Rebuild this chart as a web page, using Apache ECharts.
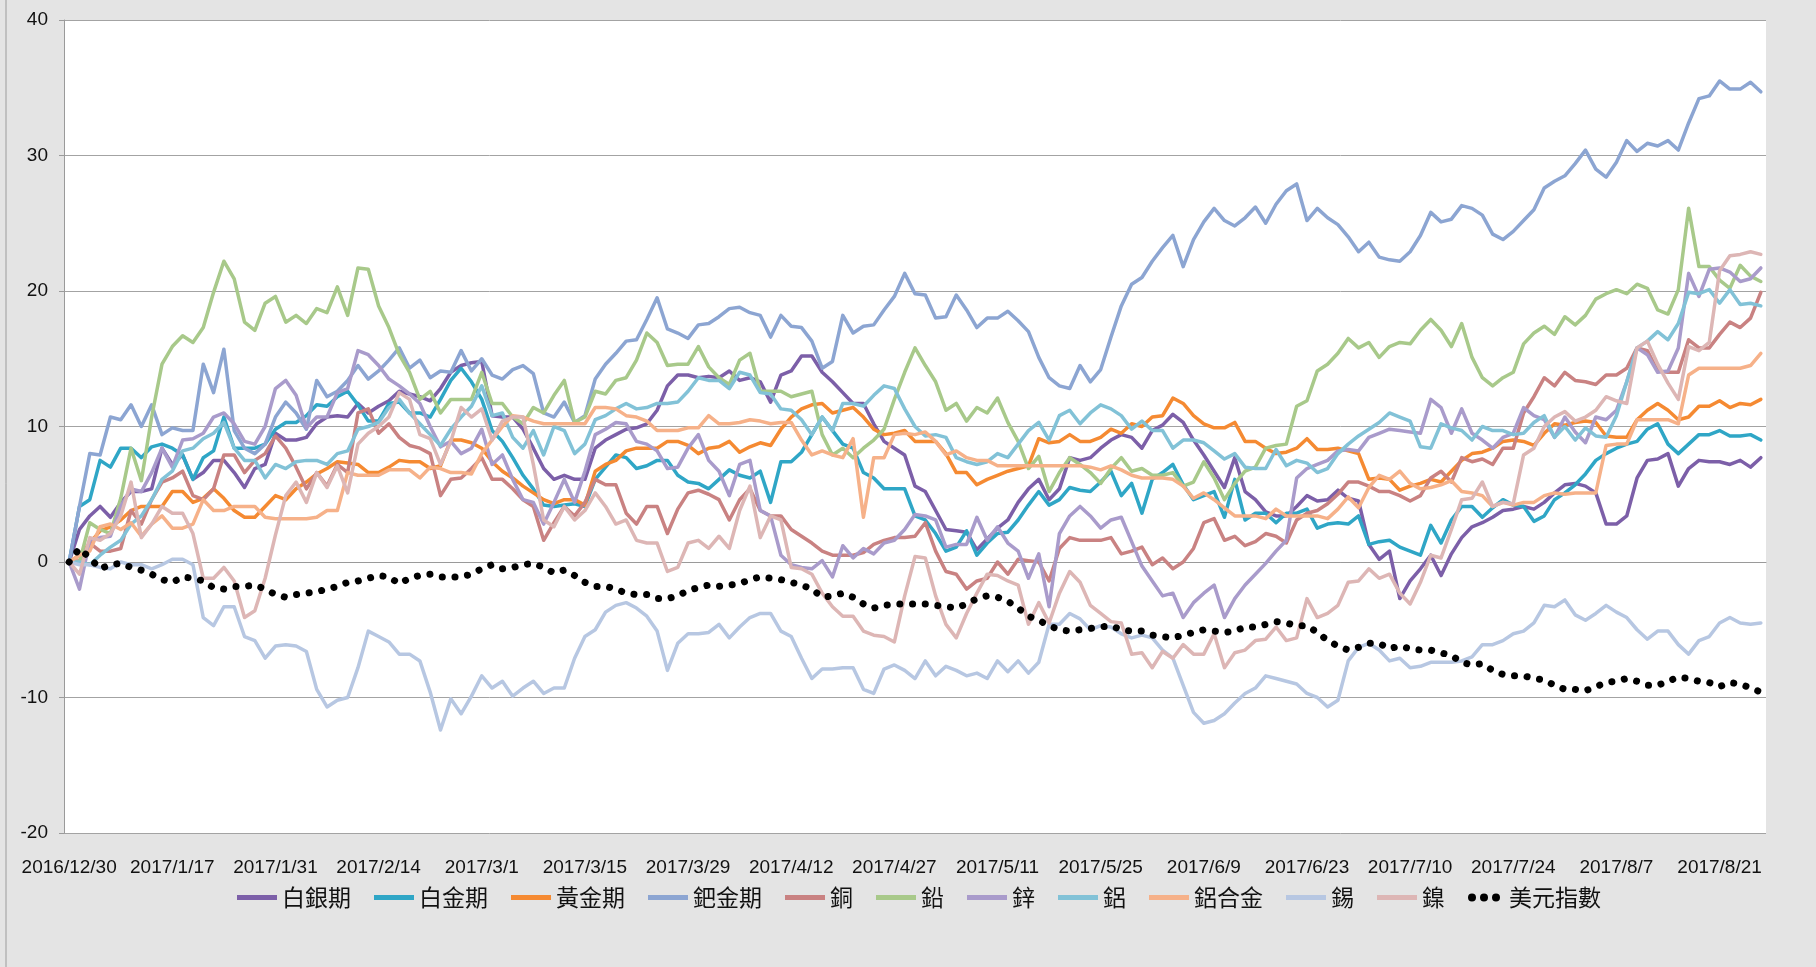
<!DOCTYPE html>
<html><head><meta charset="utf-8">
<script src="https://cdn.jsdelivr.net/npm/echarts@6/dist/echarts.min.js"></script>
<style>html,body{margin:0;padding:0;background:#e4e4e4;}#c{width:1816px;height:967px;}</style>
</head><body><div id="c"></div>
<script>
// ---- categories (trading days) ----
const dates = ['2016/12/30',
'2017/1/3','2017/1/4','2017/1/5','2017/1/6','2017/1/9','2017/1/10','2017/1/11','2017/1/12','2017/1/13','2017/1/17',
'2017/1/18','2017/1/19','2017/1/20','2017/1/23','2017/1/24','2017/1/25','2017/1/26','2017/1/27','2017/1/30','2017/1/31',
'2017/2/1','2017/2/2','2017/2/3','2017/2/6','2017/2/7','2017/2/8','2017/2/9','2017/2/10','2017/2/13','2017/2/14',
'2017/2/15','2017/2/16','2017/2/17','2017/2/21','2017/2/22','2017/2/23','2017/2/24','2017/2/27','2017/2/28','2017/3/1',
'2017/3/2','2017/3/3','2017/3/6','2017/3/7','2017/3/8','2017/3/9','2017/3/10','2017/3/13','2017/3/14','2017/3/15',
'2017/3/16','2017/3/17','2017/3/20','2017/3/21','2017/3/22','2017/3/23','2017/3/24','2017/3/27','2017/3/28','2017/3/29',
'2017/3/30','2017/3/31','2017/4/3','2017/4/4','2017/4/5','2017/4/6','2017/4/7','2017/4/10','2017/4/11','2017/4/12',
'2017/4/13','2017/4/17','2017/4/18','2017/4/19','2017/4/20','2017/4/21','2017/4/24','2017/4/25','2017/4/26','2017/4/27',
'2017/4/28','2017/5/1','2017/5/2','2017/5/3','2017/5/4','2017/5/5','2017/5/8','2017/5/9','2017/5/10','2017/5/11',
'2017/5/12','2017/5/15','2017/5/16','2017/5/17','2017/5/18','2017/5/19','2017/5/22','2017/5/23','2017/5/24','2017/5/25',
'2017/5/26','2017/5/30','2017/5/31','2017/6/1','2017/6/2','2017/6/5','2017/6/6','2017/6/7','2017/6/8','2017/6/9',
'2017/6/12','2017/6/13','2017/6/14','2017/6/15','2017/6/16','2017/6/19','2017/6/20','2017/6/21','2017/6/22','2017/6/23',
'2017/6/26','2017/6/27','2017/6/28','2017/6/29','2017/6/30','2017/7/3','2017/7/5','2017/7/6','2017/7/7','2017/7/10',
'2017/7/11','2017/7/12','2017/7/13','2017/7/14','2017/7/17','2017/7/18','2017/7/19','2017/7/20','2017/7/21','2017/7/24',
'2017/7/25','2017/7/26','2017/7/27','2017/7/28','2017/7/31','2017/8/1','2017/8/2','2017/8/3','2017/8/4','2017/8/7',
'2017/8/8','2017/8/9','2017/8/10','2017/8/11','2017/8/14','2017/8/15','2017/8/16','2017/8/17','2017/8/18','2017/8/21',
'2017/8/22','2017/8/23','2017/8/24','2017/8/25'];

// ---- y axis ticks ----
const yTicks = [-20, -10, 0, 10, 20, 30, 40];

// ---- series values (% change) ----
const silver = [0,2.4,3.4,4.1,3.3,4.4,5.2,5.2,5.4,8.4,7.2,7.9,6.1,6.6,7.5,7.5,6.6,5.5,6.9,7.2,9.5,
9.0,9.0,9.2,10.2,10.7,10.8,10.7,11.7,11.0,11.5,11.9,12.6,12.4,12.2,11.9,12.8,14.0,14.5,14.7,14.8,10.8,10.7,
10.7,9.8,8.4,6.9,6.1,6.4,6.1,6.1,8.4,9.0,9.4,9.8,9.9,10.2,11.2,13.0,13.8,13.8,13.6,13.7,
13.6,14.1,13.4,13.6,13.3,11.8,13.8,14.1,15.2,15.2,14.0,13.3,12.5,11.7,11.7,10.2,8.9,8.4,7.9,5.6,5.2,
3.8,2.4,2.3,2.2,0.9,1.7,2.5,3.1,4.4,5.4,6.1,4.6,5.4,7.7,7.5,7.7,8.4,9.0,9.4,9.2,8.4,
9.7,10.1,10.9,10.3,9.0,7.9,6.7,5.5,7.7,5.2,4.6,3.7,3.4,3.4,4.1,4.9,4.5,4.6,5.3,4.7,4.5,
1.3,0.2,0.8,-2.7,-1.4,-0.5,0.5,-1.0,0.6,1.8,2.6,2.9,3.3,3.8,3.9,4.1,3.9,4.4,5.1,5.7,5.8,
5.6,5.1,2.8,2.8,3.4,6.2,7.5,7.6,8.0,5.6,6.9,7.5,7.4,7.4,7.2,7.5,7.0,7.7];
const platinum = [0,4.1,4.6,7.5,7.0,8.4,8.4,7.7,8.5,8.7,8.4,7.9,6.1,7.7,8.2,10.7,8.4,8.4,8.4,8.7,9.8,
10.3,10.3,10.8,11.6,11.5,12.2,12.6,11.6,10.4,10.4,11.7,11.8,11.0,11.0,10.7,12.0,13.4,14.3,13.3,12.0,9.7,8.9,
7.7,6.4,5.4,4.2,4.1,4.2,4.3,4.1,6.1,7.0,7.9,7.7,6.9,7.1,7.5,7.5,6.4,5.9,5.8,5.4,
6.1,6.8,6.4,6.2,6.7,4.4,7.4,7.4,8.1,9.4,10.7,9.7,8.7,8.4,6.6,6.2,5.4,5.4,5.4,3.4,3.1,
2.1,0.8,1.1,2.3,0.5,1.4,2.1,2.2,3.1,4.2,5.2,4.2,4.6,5.5,5.3,5.2,5.9,6.7,4.9,5.8,3.6,
6.1,6.6,7.2,5.7,4.6,4.9,5.2,3.3,6.1,3.1,3.6,3.6,2.9,3.6,3.6,3.9,2.5,2.8,2.9,2.8,3.4,
1.3,1.5,1.6,1.1,0.8,0.5,2.7,1.4,3.1,4.1,4.1,3.3,4.0,4.6,4.2,4.1,3.0,3.4,4.6,5.1,5.7,
6.5,7.5,8.0,8.4,8.7,8.9,9.8,10.2,8.7,8.0,8.7,9.4,9.4,9.7,9.3,9.3,9.4,9.0];
const gold = [0,0.5,1.4,2.3,2.6,3.1,3.8,4.1,4.1,4.1,5.2,5.2,4.4,4.7,5.4,4.7,3.8,3.3,3.3,4.1,4.9,
4.6,5.4,5.9,6.5,6.9,7.4,7.3,7.2,6.6,6.6,7.0,7.5,7.4,7.4,6.9,7.1,9.0,9.0,8.8,8.4,7.4,6.7,
6.2,5.6,5.1,4.6,4.3,4.6,4.6,4.2,6.7,7.2,7.5,8.2,8.4,8.4,8.4,8.9,8.9,8.6,8.0,8.4,
8.5,8.9,8.1,8.5,8.8,8.6,9.8,10.7,11.3,11.6,11.7,11.0,11.2,11.4,10.7,9.8,9.4,9.5,9.7,8.9,8.9,
8.9,8.0,6.6,6.6,5.7,6.1,6.4,6.7,6.9,7.1,9.1,8.8,8.9,9.4,8.9,8.9,9.2,9.8,9.5,10.2,10.0,
10.7,10.8,12.1,11.7,10.8,10.2,9.9,9.9,10.3,8.9,8.9,8.4,8.0,8.1,8.4,9.1,8.3,8.3,8.4,8.2,8.0,
6.1,6.2,6.1,5.3,5.6,5.8,6.1,5.9,6.7,7.5,8.0,8.1,8.4,8.9,9.0,8.9,8.6,9.5,10.2,10.1,10.3,
10.4,10.3,9.3,9.2,9.2,10.5,11.2,11.7,11.2,10.5,10.7,11.5,11.5,11.9,11.4,11.7,11.6,12.0];
const palladium = [0,4.1,8.0,7.9,10.7,10.5,11.6,10.0,11.6,9.4,9.9,9.7,9.7,14.6,12.5,15.7,9.7,8.4,8.0,8.7,10.7,
11.8,11.0,9.8,13.4,12.2,12.6,13.4,14.5,13.5,14.1,14.9,15.8,14.3,14.9,13.6,14.1,14.0,15.6,14.1,15.0,13.8,13.5,
14.2,14.5,13.9,11.0,10.7,11.8,10.3,10.8,13.5,14.6,15.4,16.3,16.4,17.9,19.5,17.2,16.9,16.5,17.5,17.6,
18.1,18.7,18.8,18.4,18.2,16.6,18.2,17.4,17.3,16.3,14.3,14.8,18.2,16.9,17.4,17.5,18.6,19.6,21.3,19.8,19.7,
18.0,18.1,19.7,18.6,17.3,18.0,18.0,18.5,17.8,17.0,15.1,13.6,13.0,12.8,14.5,13.3,14.2,16.6,18.9,20.5,21.0,
22.2,23.2,24.1,21.8,23.8,25.1,26.1,25.2,24.8,25.4,26.2,25.0,26.4,27.4,27.9,25.2,26.1,25.4,24.9,24.0,22.9,
23.6,22.5,22.3,22.2,22.9,24.1,25.8,25.1,25.3,26.3,26.1,25.6,24.2,23.8,24.4,25.2,26.0,27.6,28.1,28.5,29.4,
30.4,29.0,28.4,29.5,31.1,30.3,30.9,30.7,31.1,30.4,32.4,34.2,34.4,35.5,34.9,34.9,35.4,34.7];
const copper = [0,0.1,1.4,0.8,0.8,1.0,3.8,2.8,4.6,5.9,6.2,6.7,4.9,4.6,5.4,7.9,7.9,6.6,7.5,8.0,9.3,
8.4,7.0,5.4,6.6,5.6,7.2,6.6,11.0,11.3,9.5,10.2,9.2,8.6,8.4,8.0,4.9,6.1,6.2,6.9,7.7,6.1,6.1,
5.4,4.6,4.1,1.6,2.9,4.1,3.4,4.4,6.1,5.7,5.7,3.6,2.8,4.1,4.1,2.1,3.9,5.1,5.3,5.0,
4.6,3.1,4.6,5.4,3.8,3.4,3.4,2.4,1.9,1.4,0.8,0.5,0.5,0.5,0.7,1.3,1.6,1.8,1.8,1.9,2.9,
0.8,-0.7,-0.9,-2.0,-1.4,-1.2,0,-0.9,0.2,0.1,0,-1.4,1.0,1.8,1.6,1.6,1.6,1.8,0.6,0.8,1.1,
-0.2,0.3,-0.5,0,1.0,2.9,3.2,1.6,1.9,1.2,1.5,2.1,1.9,1.4,3.1,3.6,3.8,4.3,5.0,5.9,5.9,
5.6,5.2,5.2,4.9,4.5,4.9,6.2,6.7,5.9,7.7,7.4,7.6,7.2,8.4,8.4,11.0,12.2,13.6,13.0,14.0,13.4,
13.3,13.1,13.8,13.8,14.3,15.8,15.6,14.1,14.0,14.0,16.4,15.8,15.8,16.8,17.7,17.3,18.0,19.9];
const lead = [0,0,2.9,2.4,2.1,4.7,8.4,6.0,10.7,14.6,15.9,16.7,16.2,17.3,19.9,22.2,20.9,17.7,17.1,19.1,19.6,
17.7,18.2,17.6,18.7,18.4,20.3,18.2,21.7,21.6,18.9,17.3,15.3,14.0,12.0,12.6,11.0,12.0,12.0,12.0,14.0,11.7,11.7,
10.7,10.2,11.4,11.0,12.3,13.4,10.3,10.7,12.6,12.4,13.4,13.6,14.9,16.9,16.2,14.5,14.6,14.6,15.9,14.4,
13.6,13.1,14.9,15.4,12.6,12.6,12.6,12.2,12.4,12.6,9.4,7.9,8.4,7.7,8.4,9.0,9.8,12.0,14.0,15.8,14.5,
13.3,11.2,11.7,10.4,11.4,11.0,12.1,10.3,8.9,6.9,7.8,5.2,6.6,7.7,7.2,6.6,5.8,6.9,7.7,6.7,6.9,
6.4,6.4,6.6,5.6,5.9,7.4,6.2,4.6,5.8,6.7,7.0,8.4,8.6,8.7,11.5,11.9,14.1,14.6,15.4,16.5,15.8,
16.2,15.1,15.9,16.2,16.1,17.1,17.9,17.1,15.9,17.6,15.1,13.6,13.0,13.6,14.0,16.1,16.9,17.4,16.8,18.1,17.5,
18.2,19.4,19.8,20.1,19.8,20.5,20.2,18.6,18.3,20.1,26.1,21.8,21.8,20.8,20.2,21.9,21.1,20.7];
const zinc = [0,-2.0,1.6,1.8,1.9,4.1,5.4,5.2,6.6,8.4,7.0,9.0,9.1,9.5,10.7,11.0,10.2,8.9,8.7,10.0,12.8,
13.4,12.3,9.9,10.7,10.7,12.5,12.8,15.6,15.3,14.5,13.5,13.0,12.4,11.7,10.0,8.5,8.9,8.0,8.4,9.8,7.2,7.9,
6.1,4.6,4.4,2.8,4.4,6.1,4.4,6.7,9.4,9.8,10.3,10.2,8.9,8.7,8.2,6.9,7.0,8.4,9.4,7.5,
6.7,4.9,7.2,7.5,3.8,3.4,0.5,-0.2,-0.4,-0.5,0.1,-1.1,1.2,0.3,1.0,0.6,1.4,1.6,2.4,3.5,3.4,
3.1,1.1,1.3,1.3,3.3,1.6,2.6,1.4,0.8,-1.2,0.6,-3.3,2.1,3.4,4.1,3.4,2.5,3.1,3.3,1.5,-0.3,
-1.4,-2.5,-2.3,-4.1,-3.0,-2.3,-1.7,-4.1,-2.7,-1.7,-0.9,-0.1,0.8,1.6,6.2,6.9,7.2,7.5,8.2,8.3,8.2,
9.2,9.5,9.8,9.7,9.6,9.5,12.0,11.4,9.5,11.3,9.5,9.0,8.4,9.2,9.5,11.4,10.8,10.5,9.2,10.7,9.6,
8.8,10.7,10.5,11.2,13.3,15.8,15.3,14.0,14.1,15.8,21.3,19.6,21.6,21.7,21.4,20.7,20.9,21.7];
const aluminium = [0,0,-0.2,0.5,1.1,1.6,2.8,3.4,4.6,6.1,6.7,8.2,8.4,9.1,9.5,10.3,8.4,7.5,7.5,6.2,7.2,
6.9,7.4,7.5,7.5,7.2,8.0,8.2,9.8,10.0,10.3,11.4,12.0,11.0,10.2,9.4,8.6,9.8,10.7,11.5,13.0,10.8,11.0,
9.2,8.4,9.7,7.9,10.0,9.7,8.0,8.7,10.5,10.8,11.3,11.7,11.3,11.4,11.7,11.7,11.8,12.6,13.6,13.4,
13.4,12.8,14.0,13.8,12.5,12.4,11.3,11.2,10.5,9.4,10.7,9.7,11.7,11.7,11.5,12.3,13.0,12.8,11.3,10.0,9.3,
9.4,9.2,7.7,7.4,7.2,7.4,8.0,7.7,8.7,9.7,10.3,9.0,10.8,11.2,10.2,11.0,11.6,11.3,10.8,9.8,10.4,
9.7,9.7,8.4,9.0,9.0,8.8,8.2,7.6,8.0,7.0,6.9,6.9,8.3,7.1,7.5,7.3,6.6,6.9,8.0,8.7,9.3,
9.8,10.3,11.0,10.7,10.4,8.5,8.4,10.2,9.9,9.7,9.0,10.0,9.7,9.7,9.4,9.5,10.3,10.8,9.2,10.0,9.0,
9.9,9.3,9.2,10.8,13.3,15.8,16.3,17.0,16.4,17.6,19.9,19.8,20.1,19.1,20.1,19.0,19.1,18.9];
const alloy = [0,0.5,0.8,2.6,2.8,2.4,2.9,1.9,2.8,3.4,2.5,2.5,2.8,4.6,3.8,3.8,4.1,4.1,4.1,3.3,3.2,
3.2,3.2,3.2,3.3,3.8,3.8,6.6,6.4,6.4,6.4,6.8,6.8,6.8,6.2,7.0,6.9,6.6,6.6,6.5,8.0,9.0,10.0,
10.8,10.7,10.4,10.2,10.2,10.2,10.2,10.2,11.4,11.4,11.3,10.8,10.7,10.4,9.7,9.7,9.7,9.9,9.9,10.8,
10.2,10.2,10.3,10.5,10.4,10.2,10.3,10.3,9.0,7.9,8.2,7.9,7.7,9.1,3.3,7.7,7.7,9.4,9.5,9.4,9.6,
8.9,7.9,8.2,7.7,7.5,7.5,7.1,7.1,7.1,7.1,7.1,7.1,7.1,7.1,7.1,7.0,6.8,7.1,6.8,6.4,6.2,
6.2,6.2,6.1,5.6,4.7,5.1,4.6,4.0,3.4,3.4,3.4,3.2,3.9,3.4,3.4,3.4,3.4,3.2,3.9,4.8,4.0,
5.5,6.4,6.1,6.7,5.8,5.4,5.5,5.7,6.0,5.2,5.1,4.9,4.1,4.4,4.2,4.4,4.4,4.9,5.1,5.0,5.1,
5.1,5.1,8.6,8.7,8.7,10.5,10.5,10.5,10.5,10.2,13.8,14.3,14.3,14.3,14.3,14.3,14.5,15.4];
const tin = [0,-0.2,-0.2,-0.4,-0.5,0,-0.2,-0.2,-0.5,-0.2,0.2,0.2,-0.2,-4.1,-4.7,-3.3,-3.3,-5.5,-5.8,-7.1,-6.2,
-6.1,-6.2,-6.6,-9.4,-10.7,-10.2,-10.0,-7.8,-5.1,-5.5,-5.9,-6.8,-6.8,-7.3,-9.6,-12.4,-10.1,-11.2,-9.9,-8.4,-9.3,-8.8,
-9.9,-9.3,-8.8,-9.7,-9.3,-9.3,-7.1,-5.5,-5.0,-3.7,-3.2,-3.0,-3.4,-4.0,-5.1,-8.0,-6.0,-5.3,-5.3,-5.2,
-4.6,-5.6,-4.8,-4.1,-3.8,-3.8,-5.1,-5.5,-7.1,-8.6,-7.9,-7.9,-7.8,-7.8,-9.4,-9.7,-7.9,-7.6,-8.0,-8.6,-7.3,
-8.4,-7.7,-8.0,-8.4,-8.2,-8.6,-7.3,-8.1,-7.3,-8.2,-7.4,-4.6,-4.6,-3.8,-4.2,-5.0,-4.7,-4.8,-5.3,-5.6,-5.4,
-5.6,-6.5,-7.1,-9.1,-11.1,-11.9,-11.7,-11.2,-10.4,-9.7,-9.3,-8.4,-8.6,-8.8,-9.0,-9.7,-10.0,-10.7,-10.2,-7.3,-6.3,
-6.0,-6.5,-7.3,-7.1,-7.8,-7.7,-7.4,-7.4,-7.4,-7.3,-7.0,-6.1,-6.1,-5.8,-5.3,-5.1,-4.5,-3.2,-3.3,-2.8,-3.9,
-4.3,-3.8,-3.2,-3.7,-4.1,-5.0,-5.7,-5.1,-5.1,-6.1,-6.8,-5.8,-5.5,-4.5,-4.1,-4.5,-4.6,-4.5];
const nickel = [0,-0.9,1.8,1.6,2.1,3.4,5.9,1.8,2.8,4.1,3.6,3.6,2.1,-1.2,-1.2,-0.4,-1.4,-4.1,-3.6,-1.2,2.0,
4.9,5.9,4.4,6.6,5.5,7.1,5.1,8.7,9.5,10.0,10.7,12.5,12.0,9.4,9.1,7.2,8.9,11.4,10.7,11.3,9.0,10.4,
10.7,10.7,7.2,3.1,2.6,4.1,3.1,3.8,5.1,4.1,2.8,3.1,1.6,1.4,1.4,-0.7,-0.4,1.4,1.6,1.0,
1.9,1.0,3.8,5.6,1.8,3.4,3.1,-0.4,-0.5,-0.9,-2.3,-3.3,-4.0,-4.0,-5.1,-5.4,-5.5,-5.9,-2.5,0.4,0.3,
-2.5,-4.6,-5.6,-3.8,-2.3,-0.9,-1.0,-1.4,-1.7,-4.6,-3.0,-4.5,-2.3,-0.7,-1.5,-3.2,-3.8,-4.4,-4.5,-6.8,-6.7,
-7.8,-6.6,-7.1,-6.1,-6.8,-6.8,-5.3,-7.8,-6.7,-6.5,-5.8,-5.7,-4.8,-5.8,-5.6,-2.7,-4.1,-3.8,-3.2,-1.5,-1.4,
-0.5,-1.2,-0.9,-2.3,-3.1,-1.5,0.5,0.3,2.4,4.6,4.7,5.9,4.1,4.4,4.3,7.9,8.4,10.0,10.7,11.1,10.4,
10.7,11.2,12.2,11.9,11.7,15.8,16.3,14.6,13.2,12.0,15.9,15.6,16.2,21.5,22.6,22.7,22.9,22.7];
const usdIndex = [0,1.0,0.3,-0.5,-0.2,-0.1,-0.4,-0.6,-0.9,-1.3,-1.5,-1.1,-1.2,-1.4,-1.9,-2.0,-1.8,-1.8,-1.7,-2.0,-2.4,
-2.6,-2.4,-2.3,-2.2,-2.0,-1.8,-1.5,-1.4,-1.2,-1.0,-1.1,-1.6,-1.2,-1.0,-0.9,-1.1,-1.1,-1.1,-0.9,-0.5,-0.2,-0.5,
-0.4,-0.2,-0.1,-0.4,-0.8,-0.6,-1.0,-1.5,-1.8,-1.8,-2.0,-2.3,-2.4,-2.4,-2.7,-2.7,-2.5,-2.1,-1.9,-1.7,
-1.8,-1.7,-1.6,-1.3,-1.1,-1.2,-1.3,-1.5,-1.7,-2.0,-2.6,-2.5,-2.3,-2.6,-3.1,-3.4,-3.2,-3.1,-3.1,-3.1,-3.1,
-3.2,-3.3,-3.4,-3.1,-2.7,-2.5,-2.6,-2.9,-3.4,-4.0,-4.3,-4.7,-5.0,-5.1,-5.0,-4.9,-4.8,-4.7,-5.0,-5.1,-5.1,
-5.4,-5.5,-5.6,-5.4,-5.2,-5.0,-5.1,-5.2,-5.1,-4.8,-4.8,-4.6,-4.4,-4.5,-4.7,-4.7,-5.2,-5.8,-6.2,-6.5,-6.3,
-6.0,-6.0,-6.4,-6.2,-6.4,-6.5,-6.5,-6.7,-6.9,-7.4,-7.6,-7.5,-8.0,-8.3,-8.4,-8.4,-8.6,-8.7,-9.1,-9.4,-9.4,
-9.5,-9.2,-8.9,-8.8,-8.6,-8.8,-9.1,-9.1,-8.8,-8.5,-8.6,-8.8,-8.9,-9.2,-8.9,-9.0,-9.3,-9.6];

const names = ['白銀期','白金期','黃金期','鈀金期','銅','鉛','鋅','鋁','鋁合金','錫','鎳','美元指數'];
const values = [silver, platinum, gold, palladium, copper, lead, zinc, aluminium, alloy, tin, nickel, usdIndex];
const colors = ['#7C5FA8','#2FA6C6','#F58A32','#8CA5D2','#C98282','#A8C98A','#A99BCB','#82C2D7','#F6B189','#B7C7E2','#DDB6B5','#000000'];

const LATIN = "'Liberation Sans', sans-serif";
const CJK = "'Noto Sans CJK TC','Noto Sans CJK SC',sans-serif";
const labelSize = 19;

const barIcon = 'path://M0 0H40V5H0Z';
const dotIcon = 'path://M0 4a4 4 0 1 0 8 0a4 4 0 1 0 -8 0ZM12 4a4 4 0 1 0 8 0a4 4 0 1 0 -8 0ZM24 4a4 4 0 1 0 8 0a4 4 0 1 0 -8 0Z';

const series = names.map((n, i) => {
  const isUsd = n === '美元指數';
  return {
    name: n, type: 'line', data: values[i], symbol: 'none', silent: true,
    color: colors[i],
    itemStyle: { color: colors[i] },
    lineStyle: isUsd
      ? { color: colors[i], width: 7, type: [0.1, 12.6], cap: 'round', join: 'round' }
      : { color: colors[i], width: 3.5, join: 'round', cap: 'round' },
    emphasis: { disabled: true },
    animation: false
  };
});

const chart = echarts.init(document.getElementById('c'), null, { renderer: 'canvas' });
chart.setOption({
  backgroundColor: '#e4e4e4',
  animation: false,
  grid: { left: 64, right: 50, top: 20, bottom: 134, show: true, backgroundColor: '#ffffff', borderWidth: 0 },
  xAxis: {
    type: 'category', data: dates, boundaryGap: true,
    axisLine: { lineStyle: { color: '#9a9a9a', width: 1 } },
    axisTick: { show: false },
    axisLabel: { interval: 9, showMinLabel: true, hideOverlap: false, margin: 25, color: '#111', fontSize: labelSize, fontFamily: LATIN },
    splitLine: { show: false }
  },
  yAxis: {
    type: 'value', min: yTicks[0], max: yTicks[yTicks.length - 1], interval: 10,
    axisLine: { show: true, lineStyle: { color: '#9a9a9a', width: 1 } },
    axisTick: { show: true, length: 5, lineStyle: { color: '#9a9a9a' } },
    axisLabel: { margin: 16, color: '#111', fontSize: labelSize, fontFamily: LATIN },
    splitLine: { lineStyle: { color: '#a3a3a3', width: 1 } }
  },
  legend: {
    top: 886, left: 237, padding: 0,
    itemWidth: 40, itemHeight: 8, itemGap: 23,
    itemStyle: { borderWidth: 0 },
    textStyle: { color: '#111', fontSize: 23, fontFamily: CJK },
    data: names.map(n => ({ name: n, icon: n === '美元指數' ? dotIcon : barIcon }))
  },
  graphic: [{ type: 'line', shape: { x1: 6, y1: 0, x2: 6, y2: 967 }, style: { stroke: '#9c9c9c', lineWidth: 1 } }],
  series: series
});
</script></body></html>
